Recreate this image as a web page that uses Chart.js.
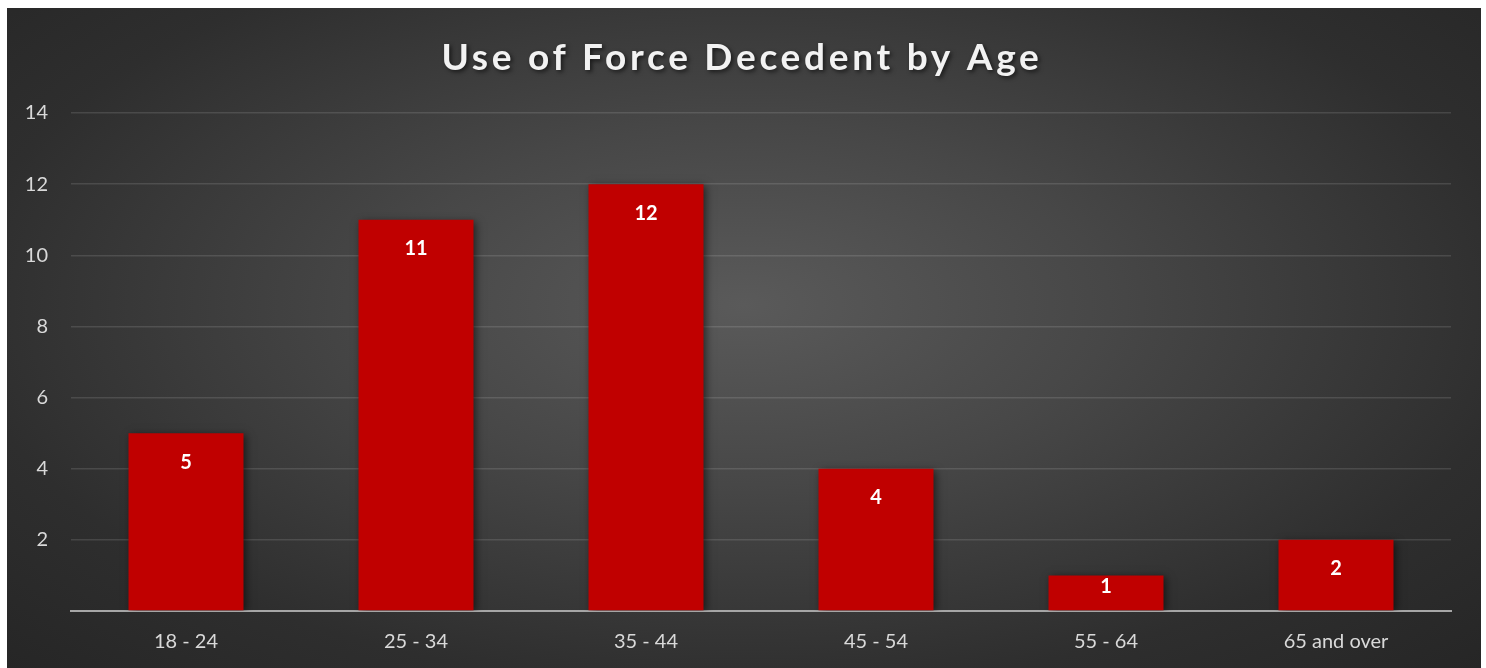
<!DOCTYPE html>
<html>
<head>
<meta charset="utf-8">
<script src="https://cdn.jsdelivr.net/npm/chart.js@4/dist/chart.umd.min.js"></script>
<style>
  body { margin: 0; background: #ffffff; }
  #box {
    position: absolute; left: 7px; top: 8px; width: 1474px; height: 660px;
    background: radial-gradient(ellipse at 50% 45%, #5a5a5a 0%, #474747 35%, #2e2e2e 75%, #262626 100%);
  }
</style>
</head>
<body>
<div id="box"><canvas id="ageChart"></canvas></div>
<script>
const chartTitle = "Use of Force Decedent by Age";
const ageGroups = ["18 - 24", "25 - 34", "35 - 44", "45 - 54", "55 - 64", "65 and over"];
const decedents = [5, 11, 12, 4, 1, 2];
const yTicks = [0, 2, 4, 6, 8, 10, 12, 14];

// draws the title with spacing and a shadow, like the office chart style
const titlePlugin = {
  id: "fancyTitle",
  afterDraw(chart) {
    const ctx = chart.ctx;
    ctx.save();
    ctx.font = "bold 37px Lato";
    ctx.letterSpacing = "3.7px";
    ctx.fillStyle = "#f2f2f2";
    ctx.textAlign = "center";
    ctx.textBaseline = "middle";
    ctx.shadowColor = "rgba(0,0,0,0.6)";
    ctx.shadowBlur = 4;
    ctx.shadowOffsetX = 2;
    ctx.shadowOffsetY = 2;
    ctx.fillText(chartTitle, chart.width / 2 - 2, 50);
    ctx.restore();
  }
};

// bar shadow + value labels inside the top of each bar
const barLabels = {
  id: "barLabels",
  beforeDatasetsDraw(chart) {
    const ctx = chart.ctx;
    ctx.save();
    ctx.shadowColor = "rgba(0,0,0,0.55)";
    ctx.shadowBlur = 8;
    ctx.shadowOffsetX = 2;
    ctx.shadowOffsetY = 2;
  },
  afterDatasetsDraw(chart) {
    const ctx = chart.ctx;
    ctx.restore();
    ctx.save();
    ctx.font = "bold 20px Lato";
    ctx.fillStyle = "#ffffff";
    ctx.textAlign = "center";
    ctx.textBaseline = "middle";
    chart.getDatasetMeta(0).data.forEach(function(bar, i) {
      // short bars: keep the label inside the bar
      let y = Math.min(bar.y + 29, bar.base - 24);
      ctx.fillText(decedents[i], bar.x, y);
    });
    ctx.restore();
  }
};

new Chart(document.getElementById("ageChart"), {
  type: "bar",
  data: {
    labels: ageGroups,
    datasets: [{
      label: "Decedents",
      data: decedents,
      backgroundColor: "#c00000",
      borderWidth: 0,
      barPercentage: 0.5,
      categoryPercentage: 1.0
    }]
  },
  options: {
    responsive: true,
    maintainAspectRatio: false,
    animation: false,
    layout: { padding: { top: 105, left: 14, right: 30, bottom: 0 } },
    plugins: {
      legend: { display: false },
      title: { display: false },
      tooltip: { enabled: false }
    },
    scales: {
      x: {
        afterFit(scale) { scale.height = 57; },
        grid: { display: false, drawTicks: false },
        border: { display: true, color: "#a6a6a6", width: 2 },
        ticks: { color: "#d9d9d9", font: { family: "Lato", size: 20 }, padding: 19 }
      },
      y: {
        min: 0,
        max: 14,
        afterFit(scale) { scale.width = 50; },
        afterBuildTicks(scale) { scale.ticks = yTicks.map(v => ({ value: v })); },
        grid: { color: "rgba(255,255,255,0.12)", lineWidth: 1.5, drawTicks: false },
        border: { display: false },
        ticks: {
          color: "#d9d9d9",
          font: { family: "Lato", size: 20 },
          padding: 23,
          callback: v => (v === 0 ? "" : v)
        }
      }
    }
  },
  plugins: [titlePlugin, barLabels]
});
</script>
</body>
</html>
